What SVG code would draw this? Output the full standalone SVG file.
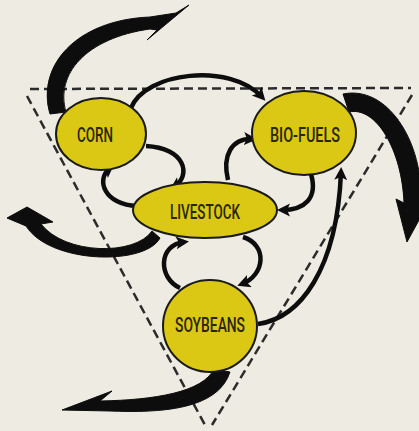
<svg xmlns="http://www.w3.org/2000/svg" width="419" height="431" viewBox="0 0 419 431">
<defs>
<style>
.bg{fill:#EEEBE2}
.tri{fill:none;stroke:#2b2b2b;stroke-width:2.5;stroke-dasharray:9 5}
.node{fill:#DAC814;stroke:#1a1a1a;stroke-width:2}
.lbl{font-family:"Roboto","DejaVu Sans Condensed","Liberation Sans",sans-serif;font-size:20px;font-weight:500;fill:#2a2510;text-anchor:middle}
.thin{fill:none;stroke:#0d0d0d;stroke-width:4.5;marker-end:url(#ah)}
.big{fill:#0d0d0d;stroke:#0d0d0d;stroke-width:1;stroke-linejoin:round}
</style>
<marker id="ah" markerUnits="userSpaceOnUse" markerWidth="14" markerHeight="14" refX="8" refY="6.5" orient="auto">
<path d="M0,0 L13,6.5 L0,13 L3,6.5 Z" fill="#0d0d0d"/>
</marker>
</defs>
<rect class="bg" x="0" y="0" width="419" height="431"/>
<g id="frame">
<path class="tri" d="M30,89 L411,88"/>
<path class="tri" d="M27,96 L205,425"/>
<path class="tri" d="M412,95 L212,425"/>
</g>
<g id="connectors">
<path class="big" d="M50,114 C36,66 76,20 150,17 L176,13 L189,5 L147,40 L157,30 L150,29 C86,38 55,74 66,112 Z"/>
<path class="big" d="M343,94 C387,85 421,140 421,195 L430,200 L407,242 L396,199 L404,203 C402,150 376,106 349,112 Z"/>
<path class="big" d="M230,372 C218,410 160,413 110,411 L62,410 L112,391 L100,401 C155,400 203,392 214,369 Z"/>
<path class="big" d="M160,238 C145,266 50,264 26,226 L7,218 L27,207 L53,222 L41,224 C65,255 135,256 152,231 Z"/>
<path class="thin" d="M131,108 C145,72 230,62 262,97"/>
<path class="thin" d="M258,324 C300,318 337,270 341,172"/>
<path class="thin" d="M146,146 C185,148 192,175 174,187"/>
<path class="thin" d="M137,206 C105,205 95,180 110,168"/>
<path class="thin" d="M228,180 C222,155 232,138 252,139"/>
<path class="thin" d="M311,174 C318,198 305,210 282,210"/>
<path class="thin" d="M180,288 C158,278 158,245 184,242"/>
<path class="thin" d="M243,237 C268,245 265,275 242,284"/>
</g>
<g id="corn">
<ellipse class="node" cx="101" cy="134" rx="45" ry="36"/>
<text class="lbl" x="95" y="142" textLength="36" lengthAdjust="spacingAndGlyphs">CORN</text>
</g>
<g id="biofuels">
<ellipse class="node" cx="304" cy="133" rx="52" ry="42"/>
<text class="lbl" x="305" y="142" textLength="70" lengthAdjust="spacingAndGlyphs">BIO-FUELS</text>
</g>
<g id="livestock">
<ellipse class="node" cx="205" cy="210" rx="72" ry="28"/>
<text class="lbl" x="205" y="219" textLength="70" lengthAdjust="spacingAndGlyphs">LIVESTOCK</text>
</g>
<g id="soybeans">
<ellipse class="node" cx="210" cy="326" rx="47" ry="46"/>
<text class="lbl" x="210" y="332" textLength="70" lengthAdjust="spacingAndGlyphs">SOYBEANS</text>
</g>
</svg>
